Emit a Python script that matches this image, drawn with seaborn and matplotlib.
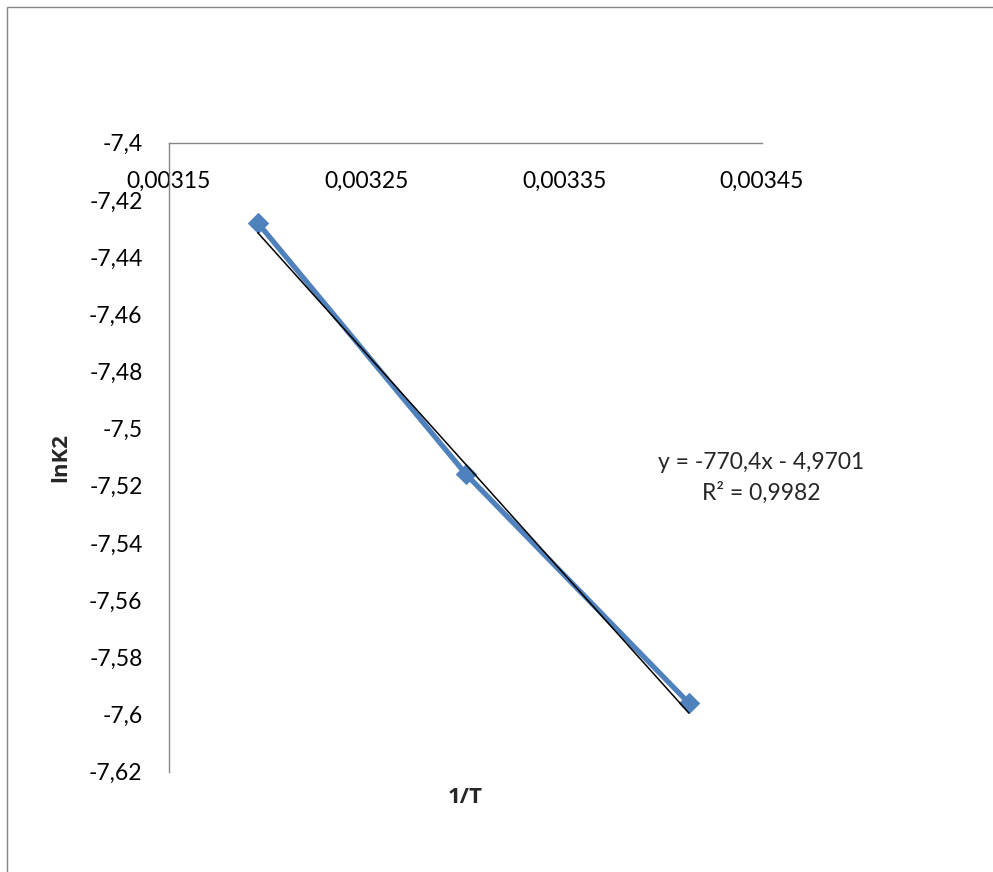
import numpy as np
import pandas as pd
import matplotlib
matplotlib.use("Agg")
import matplotlib.pyplot as plt
from matplotlib.ticker import FuncFormatter, FixedLocator
from matplotlib.patches import Rectangle
import seaborn as sns

# Data
inv_T = [0.0031949, 0.0033003, 0.0034130]
lnK2 = [-7.428, -7.516, -7.596]
slope = -770.4
intercept = -4.9701
r2_text = "0,9982"
x_ticks = [0.00315, 0.00325, 0.00335, 0.00345]
y_ticks = [-7.62, -7.60, -7.58, -7.56, -7.54, -7.52, -7.50, -7.48, -7.46, -7.44, -7.42, -7.40]

sns.set_style("white")
plt.rcParams['font.family'] = ['Lato', 'DejaVu Sans']

fig = plt.figure(figsize=(9.93, 8.72), dpi=100)
ax = fig.add_axes([0.1702, 0.1150, 0.5972, 0.7213])

df = pd.DataFrame({"x": inv_T, "y": lnK2})
sns.lineplot(data=df, x="x", y="y", ax=ax, sort=False, color="#4F81BD",
             linewidth=3.8, marker="D", markersize=10, markeredgecolor="#4F81BD")

xf = np.array([inv_T[0], inv_T[-1]])
ax.plot(xf, slope * xf + intercept, color="black", linewidth=1.1)

ax.set_xlim(x_ticks[0], x_ticks[-1])
ax.set_ylim(y_ticks[0], y_ticks[-1])
ax.xaxis.set_major_locator(FixedLocator(x_ticks))
ax.yaxis.set_major_locator(FixedLocator(y_ticks))
fmt = FuncFormatter(lambda v, p: f"{v:g}".replace('.', ','))
ax.xaxis.set_major_formatter(fmt)
ax.yaxis.set_major_formatter(fmt)

ax.spines['bottom'].set_position(('data', y_ticks[-1]))
ax.spines['top'].set_visible(False)
ax.spines['right'].set_visible(False)
for s in ['bottom', 'left']:
    ax.spines[s].set_color('#868686')
    ax.spines[s].set_linewidth(1.0)
ax.tick_params(axis='both', length=0, labelsize=16.5, colors='black')
ax.tick_params(axis='x', pad=20)
ax.tick_params(axis='y', pad=19)

bold_font = ['Open Sans', 'DejaVu Sans']
ax.set_xlabel("1/T", fontsize=16, fontweight='bold', family=bold_font)
ax.set_ylabel("lnK2", fontsize=16, fontweight='bold', family=bold_font)
ax.xaxis.set_label_coords(0.5, -0.024)
ax.yaxis.set_label_coords(-0.165, 0.5)

fig.text(761 / 993, 1 - 462 / 872, "y = -770,4x - 4,9701", ha='center', va='center', fontsize=16.5)
fig.text(761 / 993, 1 - 493 / 872, "R² = " + r2_text, ha='center', va='center', fontsize=16.5)

fig.patches.append(Rectangle((7 / 993, -0.05), 1.1, 1 - 7 / 872 + 0.05, transform=fig.transFigure,
                             fill=False, edgecolor='#868686', linewidth=1.0))

fig.savefig("out.png", dpi=100)
